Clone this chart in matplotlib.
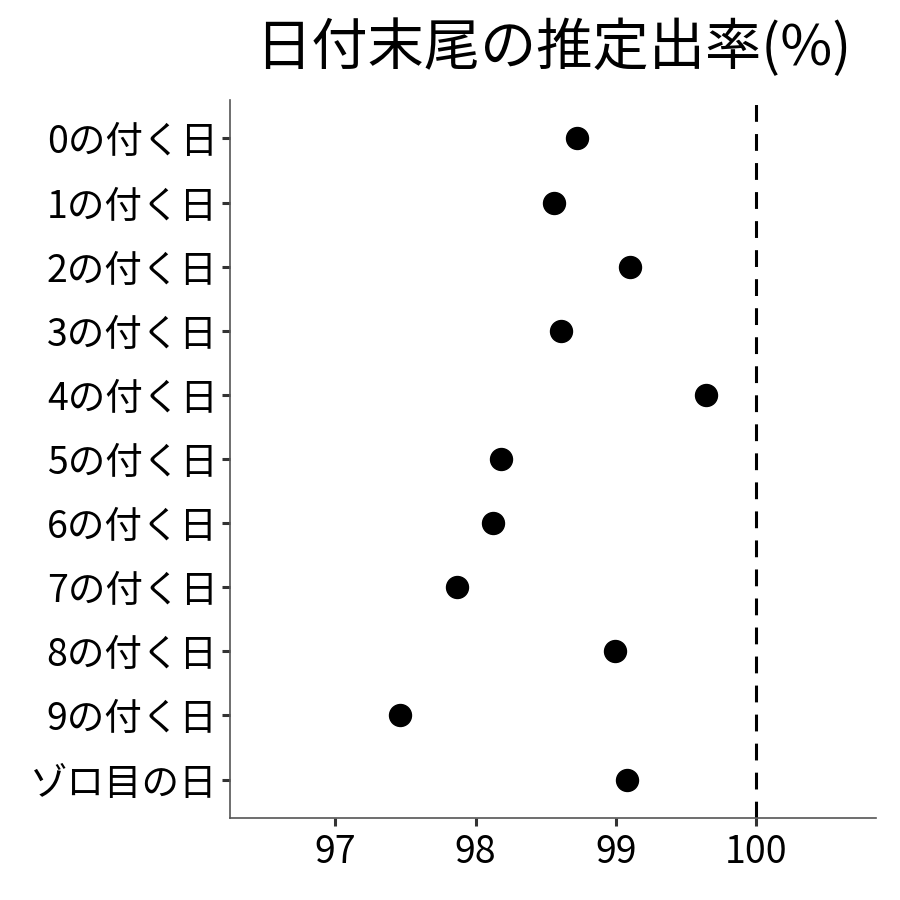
import matplotlib
matplotlib.use("Agg")
import matplotlib.pyplot as plt

plt.rcParams["font.family"] = ["Noto Sans CJK JP", "DejaVu Sans"]

# Estimated appearance rate by last digit of the date (%)
categories = ["0の付く日", "1の付く日", "2の付く日", "3の付く日", "4の付く日",
              "5の付く日", "6の付く日", "7の付く日", "8の付く日", "9の付く日",
              "ゾロ目の日"]
rates = [98.72, 98.56, 99.10, 98.61, 99.64, 98.18, 98.12, 97.87, 98.99, 97.46, 99.08]
reference_rate = 100
x_ticks = [97, 98, 99, 100]

fig = plt.figure(figsize=(9, 9), dpi=100)
ax = fig.add_axes([0.2556, 0.0911, 0.7174, 0.7978])

ypos = list(range(len(categories)))
ax.scatter(rates, ypos, s=250, color="black", zorder=3)
ax.axvline(reference_rate, color="black", linewidth=2.2, linestyle=(0, (5.5, 4)))

ax.set_yticks(ypos)
ax.set_yticklabels(categories)
ax.set_xticks(x_ticks)
ax.set_xlim(96.25, 100.85)
ax.set_ylim(len(categories) - 0.4, -0.6)

for side in ["top", "right"]:
    ax.spines[side].set_visible(False)
for side in ["left", "bottom"]:
    ax.spines[side].set_color("#555555")
    ax.spines[side].set_linewidth(1.2)

ax.tick_params(axis="both", labelsize=27, colors="#333333", labelcolor="black",
               length=6, width=2.2, pad=3)
ax.tick_params(axis="x", pad=5)

ax.set_title("日付末尾の推定出率(%)", fontsize=40.5, pad=25)

fig.savefig("out.png", dpi=100)
